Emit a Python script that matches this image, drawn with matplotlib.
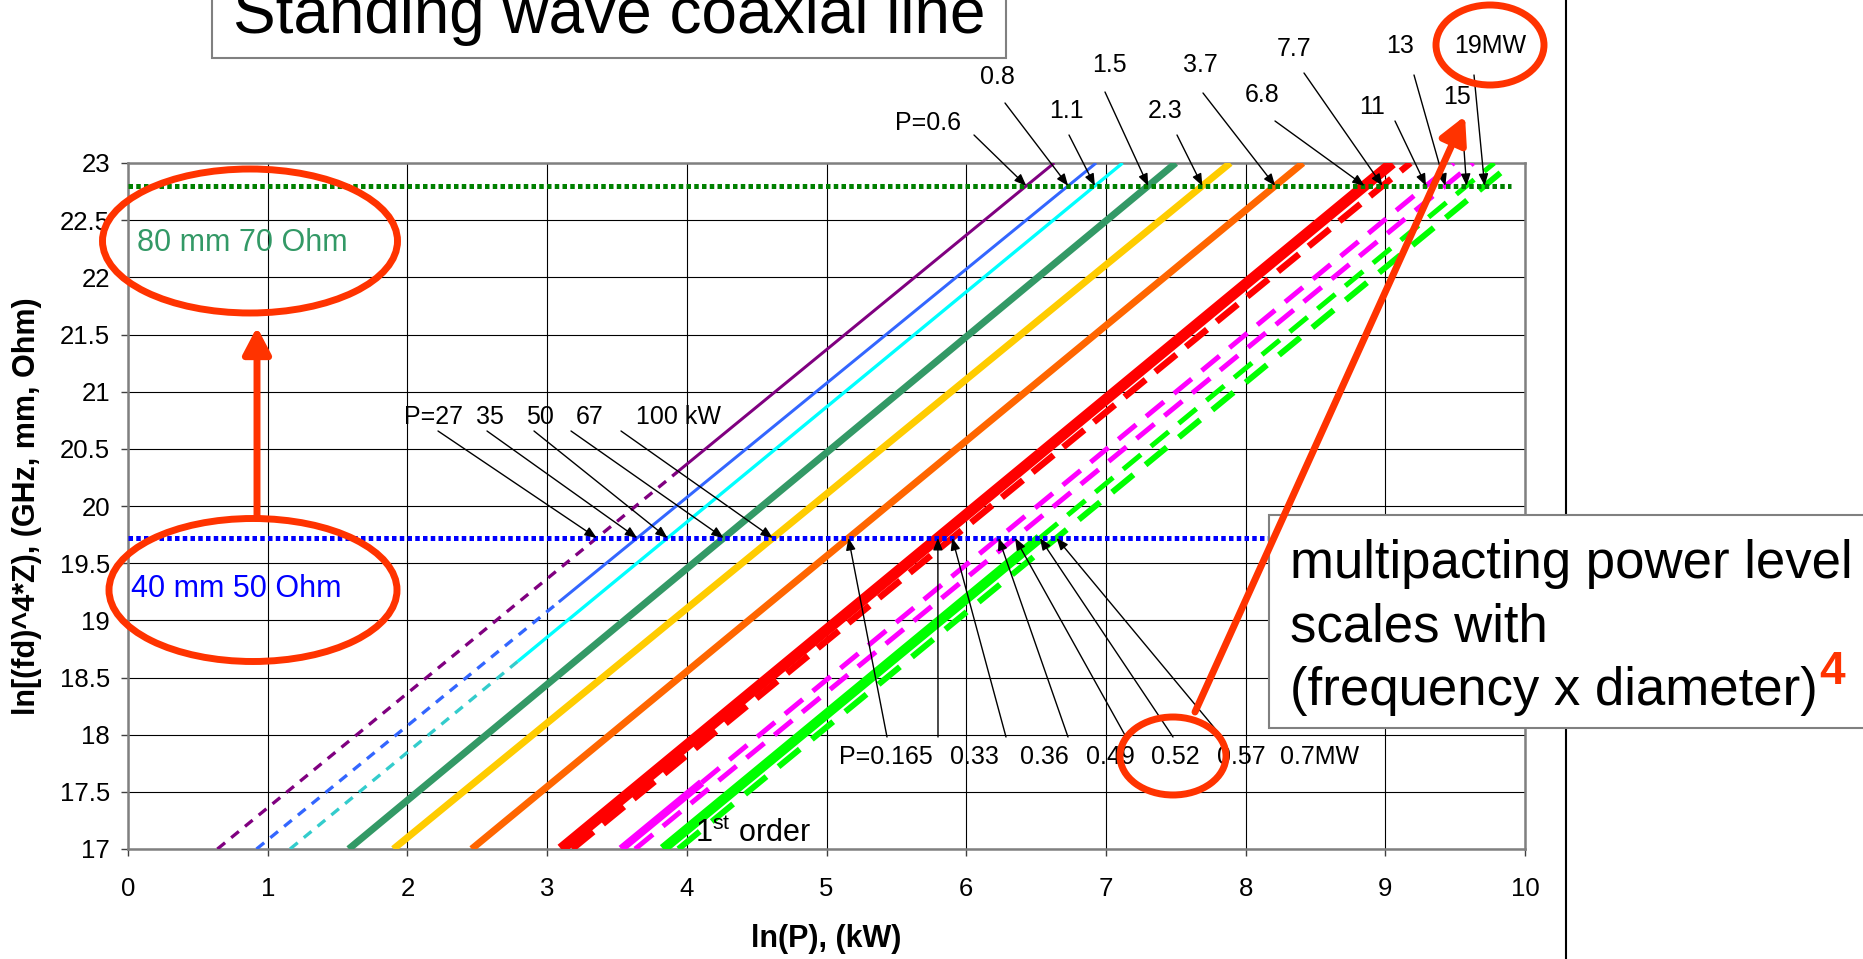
import matplotlib
matplotlib.use("Agg")
import numpy as np
import matplotlib.pyplot as plt
from matplotlib.patches import Ellipse, Rectangle, FancyArrowPatch
from matplotlib.lines import Line2D
from matplotlib.text import Annotation

plt.rcParams['font.family'] = ['Liberation Sans', 'DejaVu Sans']
plt.rcParams['mathtext.fontset'] = 'custom'
plt.rcParams['mathtext.rm'] = 'Liberation Sans'

W, H = 1863, 959
PX = 0.72  # points per pixel at dpi 100

# each series is a straight line; x read at y=17 and at y=23
X_AT_17 = [0.64, 0.92, 1.16, 1.58, 1.90, 2.46, 3.10, 3.18, 3.53, 3.63, 3.83, 3.94]
X_AT_23 = [6.63, 6.93, 7.12, 7.50, 7.89, 8.41, 9.05, 9.18, 9.49, 9.63, 9.78, 9.91]
# y where the line style changes (lower part / upper part)
SPLIT_Y = [20.30, 19.16, 18.64, None, None, None, None, None, 17.58, None, 19.72, None]

LEVEL_Y = [22.8, 19.72]          # 80 mm 70 Ohm, 40 mm 50 Ohm
LEVEL_XMAX = [9.9, 10.0]

LABELS_70 = ['P=0.6', '0.8', '1.1', '1.5', '2.3', '3.7', '6.8', '7.7', '11', '13', '15', '19MW']
LABELS_50 = ['P=27', '35', '50', '67', '100 kW', 'P=0.165', '0.33', '0.36', '0.49', '0.52', '0.57', '0.7MW']

X_TICKS = list(range(0, 11))
Y_TICKS = [17, 17.5, 18, 18.5, 19, 19.5, 20, 20.5, 21, 21.5, 22, 22.5, 23]
Y_TICK_LABELS = ['17', '17.5', '18', '18.5', '19', '19.5', '20', '20.5', '21', '21.5', '22', '22.5', '23']

# label layout (pixel centres) and arrow start points
POS_70 = [(928, 123), (997, 77), (1066, 111), (1109, 65), (1165, 111), (1200, 65),
          (1262, 95), (1294, 49), (1372, 107), (1400, 46), (1457, 97), (1490, 46)]
FROM_70 = [(974, 135), (1005, 103), (1069, 135), (1105, 92), (1177, 135), (1203, 93),
           (1275, 121), (1304, 73), (1395, 121), (1414, 75), (1463, 135), (1474, 75)]
POS_50 = [(434, 417), (490, 417), (540, 417), (590, 417), (678, 417), (886, 757),
          (974, 757), (1044, 757), (1110, 757), (1175, 757), (1241, 757), (1320, 757)]
FROM_50 = [(438, 431), (487, 431), (534, 431), (571, 431), (621, 431), (887, 737),
           (938, 737), (1006, 737), (1068, 737), (1126, 737), (1173, 737), (1222, 737)]

thin_dash = (0, (3.0, 2.4))
thick_dash = (0, (4.6, 2.6))
red_dash = (0, (4.2, 1.9))

# (lower colour, lower width px, lower style, upper colour, upper width px, upper style)
STYLES = [
    ('#800080', 3.3, thin_dash, '#800080', 3.0, '-'),
    ('#3366FF', 3.3, thin_dash, '#3366FF', 3.0, '-'),
    ('#33CCCC', 3.3, thin_dash, '#00FFFF', 3.3, '-'),
    ('#339966', 7, '-', '#339966', 7, '-'),
    ('#FFCC00', 7, '-', '#FFCC00', 7, '-'),
    ('#FF6600', 7, '-', '#FF6600', 7, '-'),
    ('#FF0000', 11, '-', '#FF0000', 11, '-'),
    ('#FF0000', 6.5, red_dash, '#FF0000', 6.5, red_dash),
    ('#FF00FF', 8, '-', '#FF00FF', 5, thick_dash),
    ('#FF00FF', 5, thick_dash, '#FF00FF', 5, thick_dash),
    ('#00FF00', 10, '-', '#00FF00', 5, thick_dash),
    ('#00FF00', 6, thick_dash, '#00FF00', 5.5, thick_dash),
]


def x_on(i, y):
    return X_AT_17[i] + (X_AT_23[i] - X_AT_17[i]) * (y - 17) / 6.0


def ff(px, py):
    return (px / W, 1 - py / H)


fig = plt.figure(figsize=(W / 100, H / 100), dpi=100)
ax = fig.add_axes([128 / W, 1 - 849 / H, 1397 / W, 686 / H])
ax.set_xlim(0, 10)
ax.set_ylim(17, 23)

for i in range(len(X_AT_17)):
    c0, w0, s0, c1, w1, s1 = STYLES[i]
    split = SPLIT_Y[i]
    if split is None:
        ys = [(17, 23, c0, w0, s0)]
    else:
        ys = [(17, split, c0, w0, s0), (split, 23, c1, w1, s1)]
    for y0, y1, c, w, s in ys:
        ax.plot([x_on(i, y0), x_on(i, y1)], [y0, y1], color=c, lw=w * PX,
                linestyle=s, solid_capstyle='butt', dash_capstyle='butt', zorder=3)

ax.plot([0, LEVEL_XMAX[0]], [LEVEL_Y[0]] * 2, color='#008000', lw=5 * PX,
        linestyle=(0, (0.9, 0.65)), zorder=4)
ax.plot([0, LEVEL_XMAX[1]], [LEVEL_Y[1]] * 2, color='#0000FF', lw=5 * PX,
        linestyle=(0, (0.9, 0.65)), zorder=4)

ax.set_xticks(X_TICKS)
ax.set_yticks(Y_TICKS)
ax.set_yticklabels(Y_TICK_LABELS)
ax.grid(True, color='black', lw=0.8)
ax.set_axisbelow(True)
for sp in ax.spines.values():
    sp.set_color('#808080')
    sp.set_linewidth(1.8)
ax.tick_params(axis='both', direction='out', length=5, width=1, color='#404040', labelsize=18.5)
ax.tick_params(axis='x', pad=15.5)
ax.tick_params(axis='y', pad=8)

ax.set_xlabel('ln(P), (kW)', fontsize=22, fontweight='bold')
ax.xaxis.set_label_coords(0.5, (849 - 939) / 686)
ax.xaxis.label.set_va('center')
ax.set_ylabel('ln[(fd)^4*Z), (GHz, mm, Ohm)', fontsize=22, fontweight='bold')
ax.yaxis.set_label_coords((27.5 - 128) / 1397, 0.5)
ax.yaxis.label.set_va('center')

arrow_props = dict(arrowstyle='-|>,head_length=0.55,head_width=0.22', color='black',
                   lw=1.0, shrinkA=0, shrinkB=0, mutation_scale=13)
for i, lab in enumerate(LABELS_70):
    fig.text(*ff(*POS_70[i]), lab, fontsize=18, ha='center', va='center')
    ax.annotate('', xy=(x_on(i, LEVEL_Y[0]), LEVEL_Y[0]), xycoords='data',
                xytext=ff(*FROM_70[i]), textcoords='figure fraction',
                arrowprops=arrow_props, zorder=6, annotation_clip=False)
for i, lab in enumerate(LABELS_50):
    fig.text(*ff(*POS_50[i]), lab, fontsize=18, ha='center', va='center')
    ax.annotate('', xy=(x_on(i, LEVEL_Y[1]), LEVEL_Y[1]), xycoords='data',
                xytext=ff(*FROM_50[i]), textcoords='figure fraction',
                arrowprops=arrow_props, zorder=6, annotation_clip=False)

fig.text(*ff(137, 251), '80 mm 70 Ohm', fontsize=22, color='#339966', va='baseline')
fig.text(*ff(131, 597), '40 mm 50 Ohm', fontsize=22, color='#0000FF', va='baseline')
fig.text(*ff(695, 842), r'1$^{\mathrm{st}}$ order', fontsize=22, va='baseline')

# slide decorations
fig.add_artist(Line2D([1566 / W] * 2, [0, 1], transform=fig.transFigure, color='black', lw=1.5, zorder=1))

fig.add_artist(Rectangle(ff(212, 58), 794 / W, 80 / H, transform=fig.transFigure,
                         fc='white', ec='#808080', lw=1.5, zorder=5))
fig.text(*ff(233, 33), 'Standing wave coaxial line', fontsize=46, va='baseline', zorder=6)

fig.add_artist(Rectangle(ff(1269, 728), 700 / W, 213 / H, transform=fig.transFigure,
                         fc='white', ec='#808080', lw=1.5, zorder=5))
box_lines = []
for j, line in enumerate(['multipacting power level', 'scales with', '(frequency x diameter)']):
    box_lines.append(fig.text(*ff(1290, 578 + 63.5 * j), line, fontsize=38, va='baseline', zorder=6))
sup = Annotation('4', xy=(1, 0), xycoords=box_lines[-1], xytext=(1.0, 23), textcoords='offset points',
                 fontsize=33, fontweight='bold', color='#FF3300', ha='left', va='baseline',
                 annotation_clip=False)
sup.set_zorder(6)
fig.add_artist(sup)

red = '#FF3300'
for (cx, cy, ew, eh) in [(250, 241, 295, 144), (253, 590, 288, 143), (1490, 45, 108, 80), (1173, 756, 106, 78)]:
    fig.add_artist(Ellipse(ff(cx, cy), ew / W, eh / H, transform=fig.transFigure,
                           fill=False, ec=red, lw=5, zorder=7))

for (a, b) in [((257, 518), (257, 327)), ((1195, 712), (1465, 116))]:
    fig.add_artist(FancyArrowPatch(ff(*a), ff(*b), transform=fig.transFigure,
                                   arrowstyle='-|>,head_length=0.8,head_width=0.42',
                                   mutation_scale=20, color=red, lw=5,
                                   shrinkA=0, shrinkB=0, zorder=8))

fig.savefig('out.png', dpi=100)
